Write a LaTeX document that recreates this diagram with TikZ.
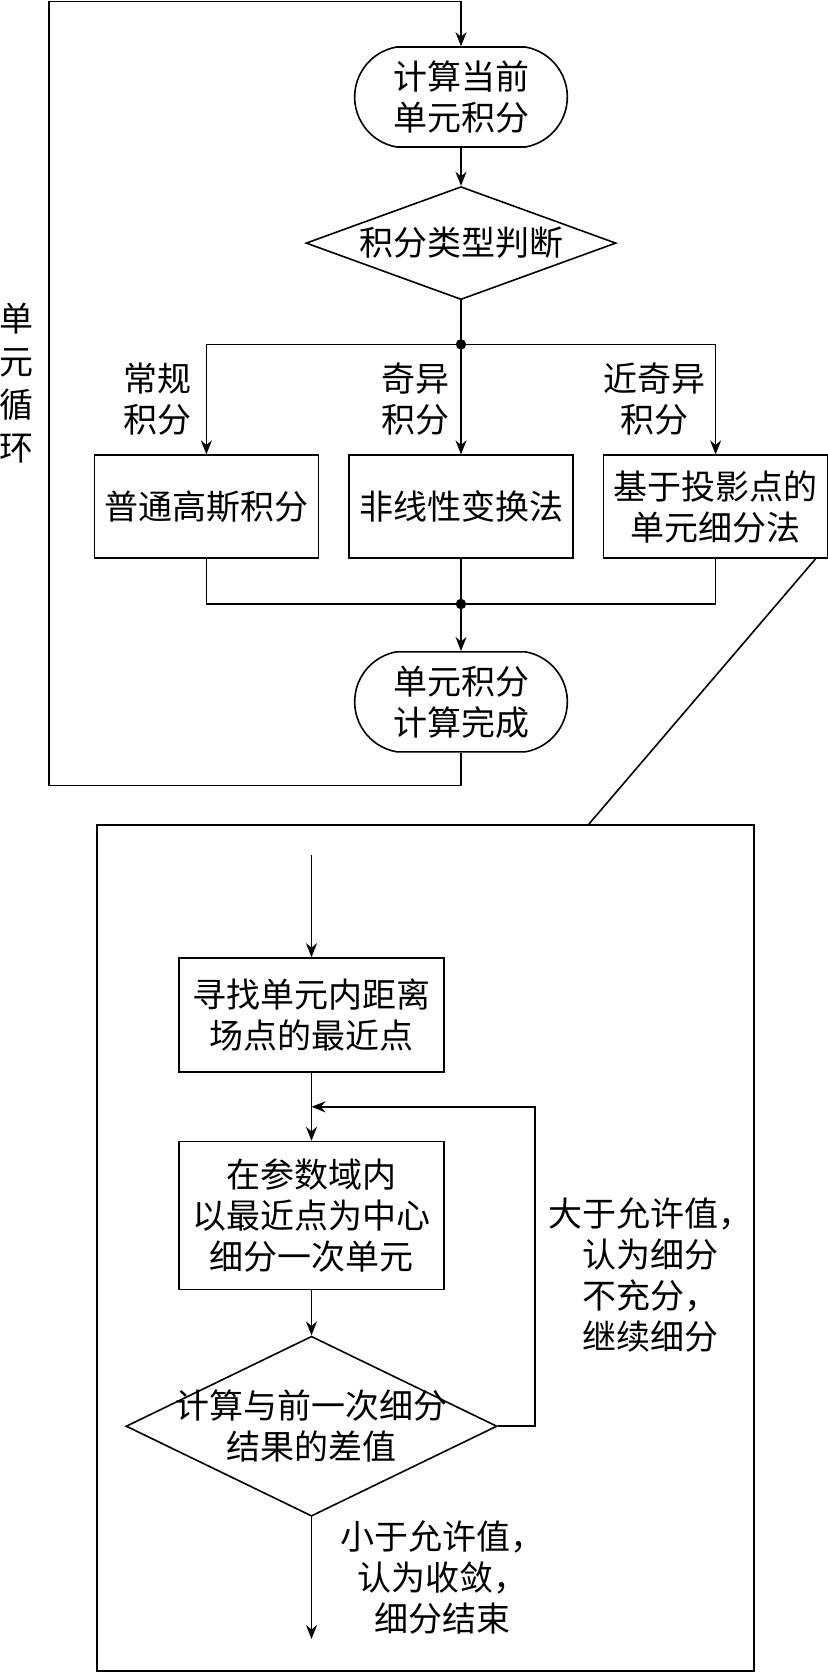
\documentclass[tikz,border=0pt]{standalone}
\usepackage{fontspec}
\newfontfamily\cjk{Noto Sans CJK SC}
\usetikzlibrary{arrows.meta,positioning,shapes.geometric,shapes.misc}

\begin{document}
\begin{tikzpicture}[
  x=0.5pt, y=-0.5pt,
  line width=0.8pt,
  font=\cjk\fontsize{17pt}{20.5pt}\selectfont,
  box/.style={draw, align=center, minimum width=112pt, minimum height=51.5pt},
  term/.style={draw, rounded rectangle, rounded rectangle arc length=160,
    align=center, minimum width=113pt, minimum height=50pt},
  decision/.style={draw, diamond, inner sep=-6pt, align=center},
  lab/.style={align=center, inner sep=0pt},
  arrow/.style={-{Stealth[length=7pt, width=5.5pt]}}
]
\useasboundingbox (0,0) rectangle (828,1672);

\node[term] (start) at (461,97) {计算当前\\单元积分};
\node[decision, aspect=2.74, minimum width=155pt, minimum height=56.5pt, below=19pt of start] (type) {积分类型判断};
\coordinate[below=22pt of type] (split);
\node[box, below=77pt of type] (nonlin) {非线性变换法};
\node[box, left=14.5pt of nonlin] (gauss) {普通高斯积分};
\node[box, right=14.5pt of nonlin] (proj) {基于投影点的\\单元细分法};
\coordinate[below=22.5pt of nonlin] (merge);
\node[term, below=46pt of nonlin] (finish) {单元积分\\计算完成};

\node[lab, above left=9pt and 7pt of gauss.north] (lregular) {常规\\积分};
\node[lab, above left=9pt and 5.5pt of nonlin.north] (lsingular) {奇异\\积分};
\node[lab, above left=9pt and 4.5pt of proj.north] (lnear) {近奇异\\积分};

\coordinate (loopnw) at (49,1.5);
\node[lab, font=\cjk\fontsize{17pt}{21.5pt}\selectfont] (loopname) at (16,383) {单\\元\\循\\环};

\draw[arrow] (start) -- (type);
\draw (type) -- (split);
\draw[arrow] (split) -| (gauss);
\draw[arrow] (split) -- (nonlin);
\draw[arrow] (split) -| (proj);
\draw (gauss) |- (merge);
\draw (proj) |- (merge);
\draw (nonlin) -- (merge);
\draw[arrow] (merge) -- (finish);
\draw[arrow] (finish.south) -- ++(0,33) -| (loopnw) -| (start.north);
\fill (split) circle[radius=2.6pt];
\fill (merge) circle[radius=2.6pt];

% subdivision detail
\node[draw, minimum width=328.5pt, minimum height=423pt] (detail) at (425.5,1248) {};
\node[box, minimum width=132.5pt, minimum height=57pt] (find) at (311.5,1015) {寻找单元内距离\\场点的最近点};
\node[box, minimum width=132.5pt, minimum height=74pt, below=34pt of find] (refine) {在参数域内\\以最近点为中心\\细分一次单元};
\node[decision, aspect=2.06, minimum width=185.5pt, minimum height=90pt, below=22.5pt of refine] (cmp) {计算与前一次细分\\结果的差值};
\coordinate[above=51pt of find] (entry);
\coordinate[below=17pt of find] (back);
\coordinate[right=18.5pt of cmp] (turn);
\coordinate[below=61pt of cmp] (exit);

\node[lab] (more) at (650,1275) {大于允许值，\\认为细分\\不充分，\\继续细分};
\node[lab] (less) at (442,1577) {小于允许值，\\认为收敛，\\细分结束};

\draw[arrow] (entry) -- (find);
\draw[arrow] (find) -- (refine);
\draw[arrow] (refine) -- (cmp);
\draw[arrow] (cmp.east) -- (turn) |- (back);
\draw[arrow] (cmp) -- (exit);
\draw ([xshift=-6.5pt]proj.south east) -- ([xshift=-83pt]detail.north east);
\end{tikzpicture}
\end{document}
